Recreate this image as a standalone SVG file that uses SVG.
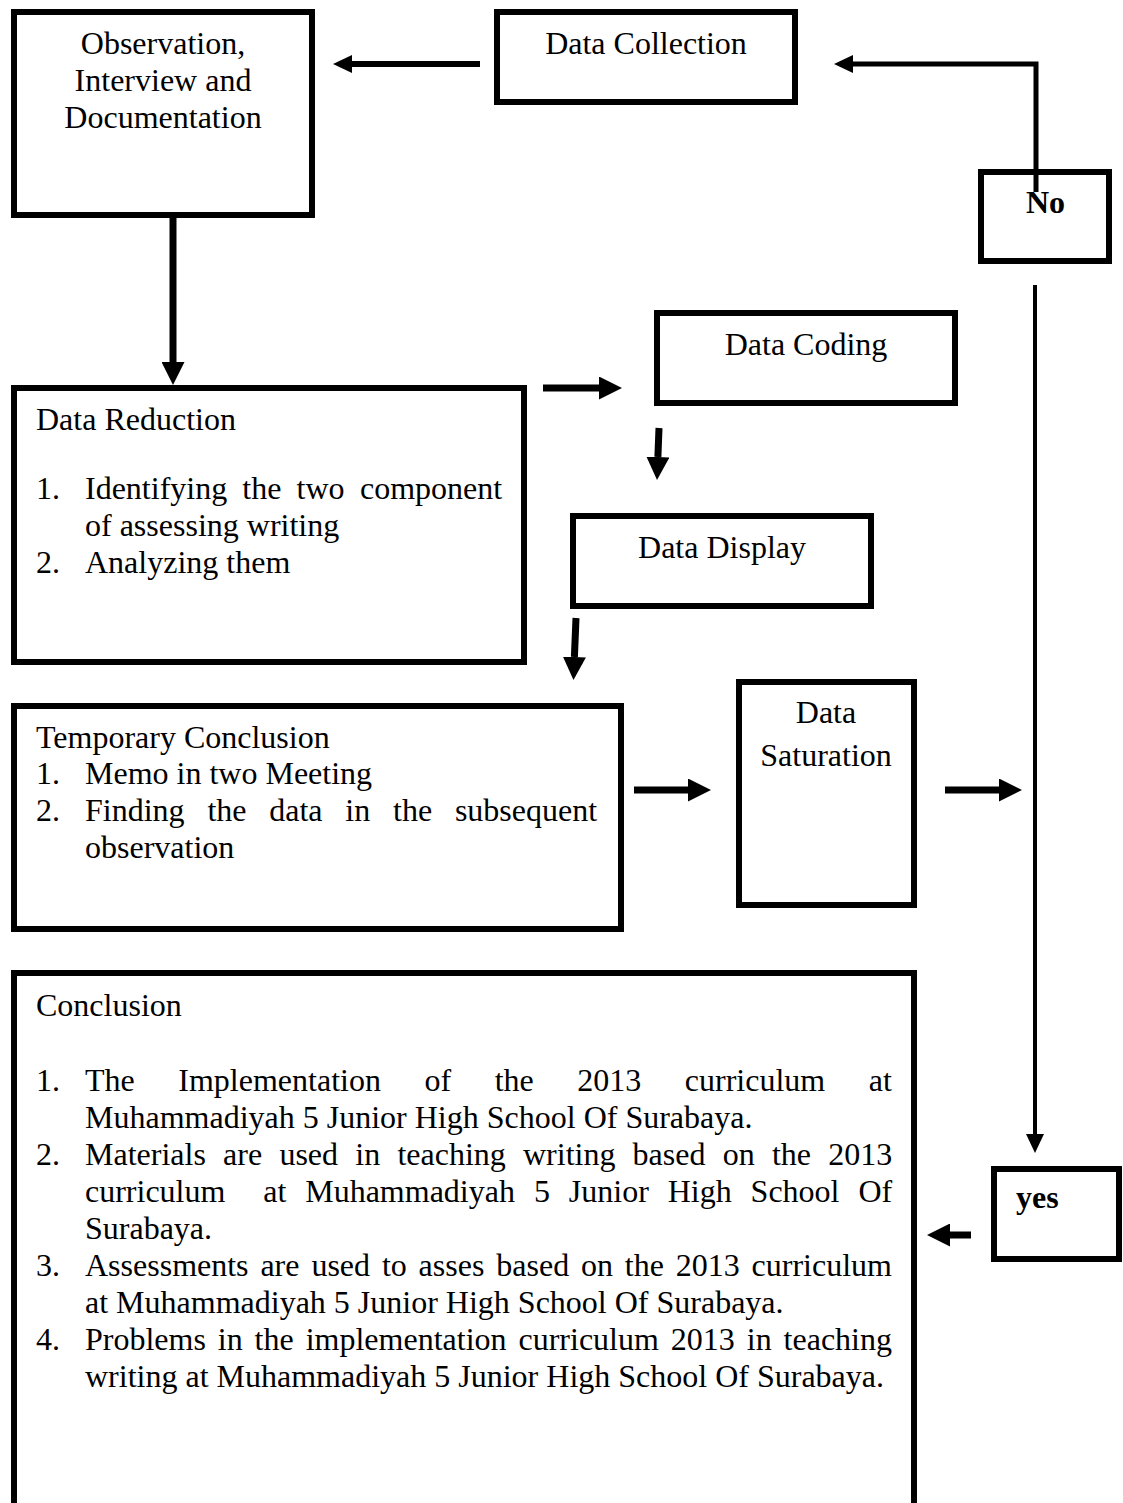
<svg xmlns="http://www.w3.org/2000/svg" width="1123" height="1503" viewBox="0 0 1123 1503">
<style>
.box{fill:#fff;stroke:#000;stroke-width:6}
.t{font-family:"Liberation Serif","Times New Roman",serif;font-size:32px;fill:#000}
.c{text-anchor:middle}
.b{font-weight:bold}
.cn{fill:none;stroke:#000;stroke-linecap:butt;stroke-linejoin:miter}
</style>
<defs>
<marker id="ah" markerUnits="userSpaceOnUse" viewBox="0 0 23 23" refX="0" refY="11.5" markerWidth="23" markerHeight="23" orient="auto"><path d="M0,0 L23,11.5 L0,23 Z" fill="#000"/></marker>
<marker id="ahs" markerUnits="userSpaceOnUse" viewBox="0 0 19 18" refX="0" refY="9" markerWidth="19" markerHeight="18" orient="auto"><path d="M0,0 L19,9 L0,18 Z" fill="#000"/></marker>
</defs>
<rect width="1123" height="1503" fill="#fff"/>

<g id="node-observation">
<rect class="box" x="14" y="12" width="298" height="203"/>
<text class="t c" x="163" y="54">Observation,</text>
<text class="t c" x="163" y="91">Interview and</text>
<text class="t c" x="163" y="128">Documentation</text>
</g>

<g id="node-data-collection">
<rect class="box" x="497" y="12" width="298" height="90"/>
<text class="t c" x="646" y="54">Data Collection</text>
</g>

<g id="node-no">
<rect class="box" x="981" y="172" width="128" height="89"/>
<text class="t b" x="1026" y="213">No</text>
</g>

<g id="node-data-coding">
<rect class="box" x="657" y="313" width="298" height="90"/>
<text class="t c" x="806" y="355">Data Coding</text>
</g>

<g id="node-data-reduction">
<rect class="box" x="14" y="388" width="510" height="274"/>
<text class="t" x="36" y="430">Data Reduction</text>
<text class="t" x="36" y="499">1.</text>
<text class="t" y="499"><tspan x="85">Identifying</tspan><tspan x="242.3">the</tspan><tspan x="296.6">two</tspan><tspan x="360">component</tspan></text>
<text class="t" x="85" y="536">of assessing writing</text>
<text class="t" x="36" y="573">2.</text>
<text class="t" x="85" y="573">Analyzing them</text>
</g>

<g id="node-data-display">
<rect class="box" x="573" y="516" width="298" height="90"/>
<text class="t c" x="722" y="558">Data Display</text>
</g>

<g id="node-temporary-conclusion">
<rect class="box" x="14" y="706" width="607" height="223"/>
<text class="t" x="36" y="748">Temporary Conclusion</text>
<text class="t" x="36" y="784">1.</text>
<text class="t" x="85" y="784">Memo in two Meeting</text>
<text class="t" x="36" y="821">2.</text>
<text class="t" y="821"><tspan x="85">Finding</tspan><tspan x="207.4">the</tspan><tspan x="269.2">data</tspan><tspan x="345.3">in</tspan><tspan x="393">the</tspan><tspan x="454.9">subsequent</tspan></text>
<text class="t" x="85" y="858">observation</text>
</g>

<g id="node-data-saturation">
<rect class="box" x="739" y="682" width="175" height="223"/>
<text class="t c" x="826" y="723">Data</text>
<text class="t c" x="826" y="766">Saturation</text>
</g>

<g id="node-conclusion">
<rect class="box" x="14" y="973" width="900" height="600"/>
<text class="t" x="36" y="1016">Conclusion</text>
<text class="t" x="36" y="1091">1.</text>
<text class="t" y="1091"><tspan x="85">The</tspan><tspan x="178.3">Implementation</tspan><tspan x="424.5">of</tspan><tspan x="494.7">the</tspan><tspan x="577.3">2013</tspan><tspan x="684.8">curriculum</tspan><tspan x="868.7">at</tspan></text>
<text class="t" x="85" y="1128">Muhammadiyah 5 Junior High School Of Surabaya.</text>
<text class="t" x="36" y="1165">2.</text>
<text class="t" y="1165"><tspan x="85">Materials</tspan><tspan x="223.1">are</tspan><tspan x="279.4">used</tspan><tspan x="355.3">in</tspan><tspan x="397.4">teaching</tspan><tspan x="523">writing</tspan><tspan x="632.6">based</tspan><tspan x="722.7">on</tspan><tspan x="771.9">the</tspan><tspan x="828.2">2013</tspan></text>
<text class="t" y="1202"><tspan x="85">curriculum</tspan><tspan x="263.2">at</tspan><tspan x="305.2">Muhammadiyah</tspan><tspan x="533.9">5</tspan><tspan x="568.8">Junior</tspan><tspan x="667.7">High</tspan><tspan x="750.6">School</tspan><tspan x="858.4">Of</tspan></text>
<text class="t" x="85" y="1239">Surabaya.</text>
<text class="t" x="36" y="1276">3.</text>
<text class="t" y="1276"><tspan x="85">Assessments</tspan><tspan x="260.4">are</tspan><tspan x="311.4">used</tspan><tspan x="381.9">to</tspan><tspan x="418.6">asses</tspan><tspan x="496.3">based</tspan><tspan x="581">on</tspan><tspan x="624.8">the</tspan><tspan x="675.8">2013</tspan><tspan x="751.6">curriculum</tspan></text>
<text class="t" x="85" y="1313">at Muhammadiyah 5 Junior High School Of Surabaya.</text>
<text class="t" x="36" y="1350">4.</text>
<text class="t" y="1350"><tspan x="85">Problems</tspan><tspan x="217.8">in</tspan><tspan x="254.6">the</tspan><tspan x="305.7">implementation</tspan><tspan x="518.5">curriculum</tspan><tspan x="670.8">2013</tspan><tspan x="746.8">in</tspan><tspan x="783.6">teaching</tspan></text>
<text class="t" x="85" y="1387">writing at Muhammadiyah 5 Junior High School Of Surabaya.</text>
</g>

<g id="node-yes">
<rect class="box" x="994" y="1169" width="125" height="90"/>
<text class="t b" x="1016" y="1208">yes</text>
</g>

<g id="connectors">
<line class="cn" x1="480" y1="64" x2="352" y2="64" stroke-width="6" marker-end="url(#ahs)"/>
<polyline class="cn" points="1036,192 1036,64 853,64" stroke-width="5" marker-end="url(#ahs)"/>
<line class="cn" x1="173" y1="218" x2="173" y2="362" stroke-width="7" marker-end="url(#ah)"/>
<line class="cn" x1="543" y1="388" x2="599" y2="388" stroke-width="7" marker-end="url(#ah)"/>
<line class="cn" x1="659" y1="428" x2="657.9" y2="457" stroke-width="7" marker-end="url(#ah)"/>
<line class="cn" x1="576" y1="618" x2="574.4" y2="657" stroke-width="7" marker-end="url(#ah)"/>
<line class="cn" x1="634" y1="790" x2="688" y2="790" stroke-width="7" marker-end="url(#ah)"/>
<line class="cn" x1="945" y1="790" x2="999" y2="790" stroke-width="7" marker-end="url(#ah)"/>
<line class="cn" x1="1035" y1="285" x2="1035" y2="1134" stroke-width="4" marker-end="url(#ahs)"/>
<line class="cn" x1="971" y1="1235" x2="950" y2="1235" stroke-width="7" marker-end="url(#ah)"/>
</g>
</svg>
